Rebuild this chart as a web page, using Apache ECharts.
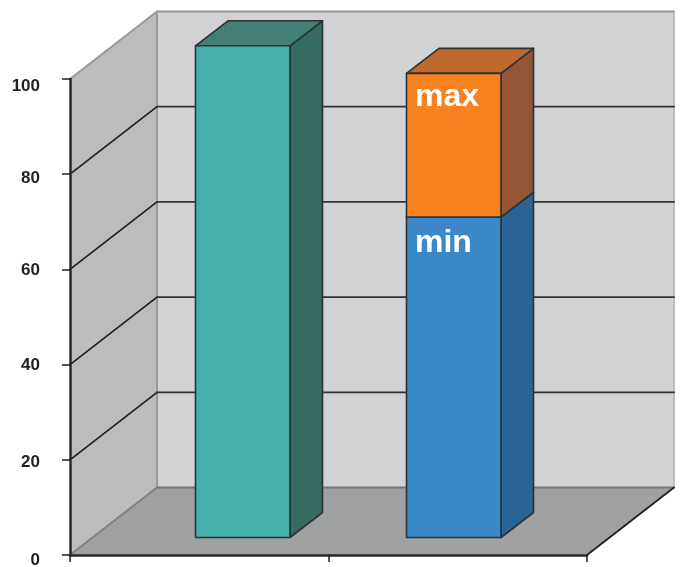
<!DOCTYPE html>
<html>
<head>
<meta charset="utf-8">
<style>html,body{margin:0;padding:0;background:#fff}#chart{width:683px;height:567px}</style>
<script src="https://cdn.jsdelivr.net/npm/echarts@6/dist/echarts.min.js"></script>
</head>
<body>
<div id="chart"></div>
<script>
// Chart values
const categories = ['Range A', 'Range B'];
const tickValues = [0, 20, 40, 60, 80, 100];
const wholeBar = [103.3, null];
const minBar = [null, 67.3];
const maxBar = [null, 97.5];

// Box projection, in pixels
const ROOM_DX = 87, ROOM_DY = -67.5;
const BAR_DX = 32.5, BAR_DY = -25, BAR_LIFT = -17.5, BAR_W = 94.5;
const BAR_SHIFT = [43.5, -4];
const LABEL_DROP = {0: 5.5, 20: 3, 40: 1, 60: 0.5, 80: 4, 100: 7};

const poly = (points, fill, z2) => ({
  type: 'polygon', z2: z2 || 0, shape: {points},
  style: {fill, stroke: null}
});
const line = (a, b, stroke, lineWidth, z2) => ({
  type: 'line', z2: z2 || 1,
  shape: {x1: a[0], y1: a[1], x2: b[0], y2: b[1]},
  style: {stroke, lineWidth, lineCap: 'round'}
});

// Walls and floor of the box behind the bars
function renderRoom(params, api) {
  const c = params.coordSys;
  const l = c.x, r = c.x + c.width;
  const y0 = api.coord([0, 0])[1], y100 = api.coord([0, 100])[1];
  const bl = l + ROOM_DX, br = r + ROOM_DX;
  const by0 = y0 + ROOM_DY, by100 = y100 + ROOM_DY;
  const children = [
    poly([[bl, by100], [br, by100], [br, by0], [bl, by0]], '#d1d2d4'),
    poly([[l, y100], [bl, by100], [bl, by0], [l, y0]], '#bbbcbe'),
    poly([[l, y0], [r, y0], [br, by0], [bl, by0]], '#a0a1a2'),
    line([bl, by100], [br, by100], '#979899', 2),
    line([l, y100], [bl, by100], '#979899', 2),
    line([bl, by100], [bl, by0], '#979899', 2),
    line([br, by100], [br, by0], '#aeafb0', 1.5),
    line([bl, by0], [br, by0], '#737475', 2),
    line([l, y0], [bl, by0], '#808182', 2),
    line([r, y0], [br, by0], '#231f20', 1.8)
  ];
  tickValues.filter(v => v > 0 && v < 100).forEach(v => {
    const y = api.coord([0, v])[1];
    children.push(line([l, y], [bl, y + ROOM_DY], '#231f20', 1.7, 2));
    children.push(line([bl, y + ROOM_DY], [br, y + ROOM_DY], '#333132', 1.8, 2));
  });
  return {type: 'group', silent: true, children};
}

// One box segment between two values, with an optional caption on its front face
function barRenderer(colors, caption, captionDrop) {
  return function (params, api) {
    const i = api.value(0);
    const p0 = api.coord([i, api.value(1)]);
    const p1 = api.coord([i, api.value(2)]);
    const x0 = p0[0] + BAR_SHIFT[i] - BAR_W / 2;
    const x1 = x0 + BAR_W;
    const yb = p0[1] + BAR_LIFT, yt = p1[1] + BAR_LIFT;
    const stroke = {stroke: '#2b3234', lineWidth: 1.6, lineJoin: 'round'};
    const face = (points, fill) => ({type: 'polygon', shape: {points}, style: {fill, ...stroke}});
    const children = [
      face([[x1, yb], [x1 + BAR_DX, yb + BAR_DY], [x1 + BAR_DX, yt + BAR_DY], [x1, yt]], colors.side),
      face([[x0, yt], [x1, yt], [x1 + BAR_DX, yt + BAR_DY], [x0 + BAR_DX, yt + BAR_DY]], colors.top),
      face([[x0, yb], [x1, yb], [x1, yt], [x0, yt]], colors.front)
    ];
    if (caption) {
      children.push({
        type: 'text', z2: 5,
        style: {
          text: caption, x: x0 + 8.5, y: yt + captionDrop,
          fill: '#ffffff', font: 'bold 32px "Liberation Sans", Arial, sans-serif',
          verticalAlign: 'top', align: 'left'
        }
      });
    }
    return {type: 'group', silent: true, children};
  };
}

const segments = (tops, bottoms) => tops
  .map((top, i) => top === null ? null : [i, bottoms ? bottoms[i] : 0, top])
  .filter(Boolean);

const chart = echarts.init(document.getElementById('chart'), null, {renderer: 'canvas'});
const labelRich = {};
tickValues.forEach(v => {
  labelRich['t' + v] = {
    fontFamily: '"Liberation Sans", Arial, sans-serif', fontWeight: 'bold', fontSize: 17,
    color: '#231f20', padding: [LABEL_DROP[v] * 2, 0, 0, 0]
  };
});

chart.setOption({
  animation: false,
  backgroundColor: '#ffffff',
  grid: {left: 70, top: 79, width: 517, height: 476, containLabel: false, outerBoundsMode: 'none'},
  xAxis: {
    type: 'category', data: categories, z: 6,
    axisLine: {lineStyle: {color: '#2b2728', width: 2.5}},
    axisTick: {show: true, alignWithLabel: false, length: 7, lineStyle: {color: '#231f20', width: 1.5}},
    axisLabel: {show: false},
    splitLine: {show: false}
  },
  yAxis: {
    type: 'value', min: 0, max: 100, interval: 20, z: 6,
    axisLine: {show: true, lineStyle: {color: '#2b2728', width: 2.5}},
    axisTick: {show: true, length: 8, lineStyle: {color: '#231f20', width: 1.5}},
    axisLabel: {
      margin: 30,
      formatter: v => `{t${v}|${v}}`,
      rich: labelRich
    },
    splitLine: {show: false}
  },
  series: [
    {type: 'custom', name: 'room', z: 1, renderItem: renderRoom, data: [[0]], encode: {x: 0}},
    {
      type: 'custom', name: 'whole', z: 2,
      renderItem: barRenderer({front: '#45afa9', top: '#437f74', side: '#366b61'}),
      data: segments(wholeBar), encode: {x: 0, y: 2}
    },
    {
      type: 'custom', name: 'min', z: 3,
      renderItem: barRenderer({front: '#3b88c8', top: '#2a6496', side: '#2a6496'}, 'min', 10),
      data: segments(minBar), encode: {x: 0, y: 2}
    },
    {
      type: 'custom', name: 'max', z: 4,
      renderItem: barRenderer({front: '#f7821f', top: '#c0682e', side: '#945436'}, 'max', 8),
      data: segments(maxBar, minBar), encode: {x: 0, y: 2}
    }
  ]
});
</script>
</body>
</html>
